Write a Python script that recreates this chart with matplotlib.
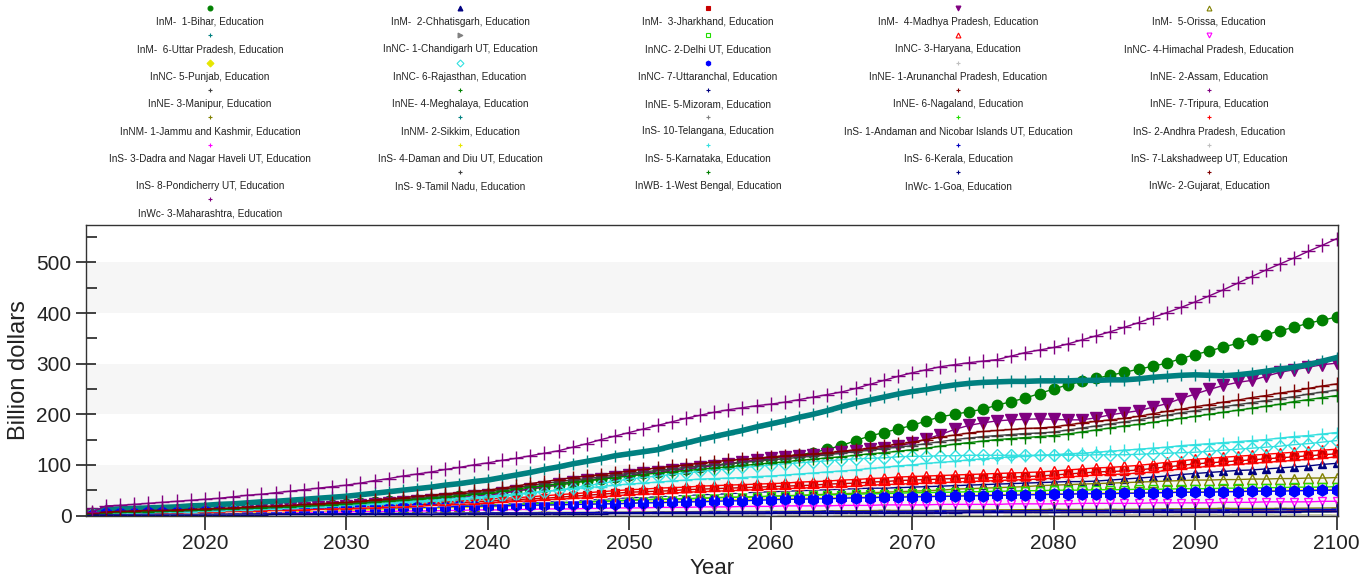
import matplotlib
matplotlib.use("Agg")
import matplotlib.pyplot as plt
from matplotlib.lines import Line2D

plt.rcParams['font.family'] = ['Liberation Sans', 'DejaVu Sans']

# yearly grid for the larger states, 4-yearly grid for the small ones
years = list(range(2012, 2101))
years_4 = list(range(2012, 2101, 4))

# ---- Billion dollars, education spending ----
bihar = [3, 5, 6, 6, 7, 8, 8, 9, 10,
         11, 12, 13, 14, 15, 16, 18, 19, 21, 22,
         24, 26, 28, 29, 31, 33, 35, 38, 40, 42,
         45, 49, 52, 56, 60, 64, 68, 72, 76, 80,
         83, 86, 89, 92, 95, 99, 102, 106, 109, 112,
         116, 120, 124, 131, 138, 148, 157, 164, 171, 178,
         187, 195, 200, 205, 210, 218, 225, 232, 241, 250,
         258, 265, 271, 277, 283, 289, 295, 301, 310, 318,
         325, 333, 340, 349, 357, 365, 372, 380, 386, 392]
chhattisgarh = [1, 2, 2, 3, 3, 3, 4, 4, 5,
                6, 6, 7, 8, 8, 9, 10, 10, 11, 12,
                13, 14, 15, 16, 17, 18, 19, 20, 21, 22,
                23, 25, 26, 27, 29, 30, 31, 32, 34, 35,
                36, 37, 39, 40, 41, 42, 43, 45, 46, 47,
                48, 49, 50, 51, 52, 53, 54, 54, 55, 56,
                57, 58, 59, 60, 61, 62, 63, 64, 65, 66,
                67, 67, 68, 70, 72, 74, 76, 78, 81, 83,
                85, 87, 89, 90, 92, 94, 96, 98, 101, 103]
jharkhand = [2, 3, 4, 4, 5, 5, 6, 6, 7,
             8, 9, 9, 10, 11, 12, 12, 13, 14, 15,
             16, 17, 18, 20, 21, 22, 24, 25, 27, 28,
             30, 31, 33, 34, 36, 38, 40, 42, 44, 46,
             47, 48, 49, 51, 52, 53, 54, 55, 56, 57,
             58, 59, 60, 62, 63, 64, 66, 67, 69, 70,
             71, 72, 73, 74, 74, 75, 76, 77, 78, 80,
             82, 84, 86, 87, 88, 90, 93, 96, 99, 102,
             104, 106, 108, 110, 112, 114, 116, 118, 120, 122]
madhya_pradesh = [2, 4, 4, 5, 5, 6, 7, 7, 8,
                  9, 10, 11, 12, 13, 14, 15, 16, 17, 18,
                  20, 22, 24, 26, 28, 30, 33, 35, 38, 40,
                  44, 48, 53, 57, 62, 66, 70, 73, 77, 80,
                  83, 86, 89, 92, 95, 98, 102, 106, 110, 114,
                  116, 117, 119, 122, 125, 128, 131, 134, 137, 143,
                  151, 160, 170, 178, 183, 187, 189, 190, 191, 190,
                  189, 189, 193, 199, 203, 207, 214, 221, 231, 240,
                  249, 257, 263, 267, 275, 283, 288, 293, 298, 301]
orissa = [1, 2, 2, 3, 3, 4, 4, 5, 5,
          6, 6, 7, 7, 8, 8, 9, 10, 10, 11,
          12, 13, 14, 15, 16, 16, 17, 18, 19, 20,
          21, 22, 23, 24, 25, 26, 27, 28, 29, 30,
          31, 32, 32, 33, 34, 35, 36, 36, 37, 38,
          39, 40, 41, 42, 43, 44, 45, 46, 47, 48,
          49, 50, 52, 53, 54, 55, 56, 57, 59, 60,
          61, 62, 63, 64, 65, 66, 67, 68, 69, 70,
          70, 71, 71, 72, 72, 73, 73, 74, 74, 75]
uttar_pradesh = [5, 12, 13, 14, 15, 16, 17, 19, 20,
                 22, 23, 25, 27, 28, 30, 32, 34, 36, 38,
                 41, 44, 47, 50, 53, 56, 60, 63, 67, 70,
                 75, 80, 85, 91, 96, 102, 107, 112, 118, 122,
                 126, 130, 137, 143, 150, 156, 162, 168, 175, 181,
                 187, 194, 200, 207, 215, 222, 228, 234, 240, 245,
                 249, 254, 258, 261, 263, 264, 265, 265, 266, 266,
                 266, 267, 267, 268, 268, 270, 273, 275, 277, 278,
                 277, 276, 278, 281, 285, 289, 293, 298, 305, 312]
delhi = [2, 3, 3, 4, 4, 5, 5, 6, 6,
         7, 7, 8, 8, 9, 9, 10, 11, 11, 12,
         13, 14, 14, 15, 16, 17, 17, 18, 19, 20,
         21, 22, 23, 24, 25, 26, 27, 28, 29, 30,
         31, 32, 33, 33, 34, 35, 36, 36, 37, 38,
         39, 39, 40, 41, 41, 42, 43, 43, 44, 45,
         45, 46, 46, 47, 47, 48, 48, 49, 49, 50,
         50, 50, 51, 51, 51, 52, 52, 52, 53, 53,
         53, 54, 54, 54, 55, 55, 56, 56, 56, 57]
haryana = [2, 3, 4, 5, 5, 6, 7, 7, 8,
           9, 10, 11, 12, 13, 13, 14, 15, 16, 17,
           18, 19, 21, 22, 24, 25, 27, 28, 30, 32,
           34, 35, 37, 39, 41, 43, 45, 47, 49, 51,
           52, 54, 55, 56, 58, 59, 60, 61, 62, 63,
           64, 66, 67, 68, 70, 71, 73, 74, 76, 77,
           78, 79, 80, 81, 82, 83, 84, 85, 86, 88,
           90, 92, 94, 95, 97, 99, 102, 105, 108, 111,
           113, 115, 117, 119, 121, 123, 125, 127, 129, 131]
himachal = [1, 2, 2, 2, 3, 3, 3, 4, 4,
            4, 5, 5, 5, 6, 6, 6, 7, 7, 7,
            8, 8, 8, 9, 9, 9, 10, 10, 11, 11,
            11, 12, 12, 13, 13, 13, 14, 14, 15, 15,
            15, 16, 16, 16, 17, 17, 17, 18, 18, 18,
            19, 19, 19, 19, 20, 20, 20, 21, 21, 21,
            21, 22, 22, 22, 22, 22, 23, 23, 23, 23,
            23, 24, 24, 24, 24, 24, 25, 25, 25, 25,
            25, 26, 26, 26, 27, 27, 27, 27, 28, 28]
punjab = [1, 2, 2, 3, 3, 3, 4, 4, 5,
          5, 6, 6, 7, 7, 8, 8, 9, 9, 10,
          11, 11, 12, 13, 14, 14, 15, 16, 16, 17,
          18, 19, 20, 20, 21, 22, 23, 24, 24, 25,
          26, 27, 28, 28, 29, 30, 31, 32, 32, 33,
          34, 34, 35, 35, 36, 36, 37, 37, 38, 38,
          39, 39, 40, 40, 41, 41, 42, 42, 43, 43,
          43, 44, 44, 45, 45, 45, 46, 46, 47, 47,
          47, 48, 48, 49, 49, 50, 50, 51, 51, 52]
rajasthan = [2, 3, 4, 4, 5, 5, 6, 7, 8,
             9, 10, 11, 11, 12, 13, 14, 15, 17, 18,
             19, 21, 22, 24, 26, 28, 29, 31, 33, 35,
             38, 41, 44, 47, 50, 54, 59, 63, 68, 72,
             75, 78, 81, 84, 87, 90, 92, 95, 97, 100,
             102, 104, 106, 108, 110, 112, 113, 114, 116, 117,
             117, 118, 118, 119, 119, 119, 119, 119, 119, 119,
             119, 119, 120, 120, 120, 121, 122, 123, 124, 125,
             127, 129, 131, 133, 135, 137, 140, 142, 145, 148]
uttaranchal = [1, 4, 5, 5, 6, 6, 7, 7, 8,
               8, 9, 9, 10, 11, 11, 12, 12, 13, 14,
               14, 15, 15, 16, 16, 17, 17, 18, 18, 19,
               19, 20, 20, 21, 21, 22, 22, 23, 23, 24,
               25, 25, 26, 27, 27, 28, 29, 29, 30, 31,
               32, 32, 33, 33, 34, 35, 35, 36, 36, 37,
               37, 38, 38, 39, 39, 40, 40, 41, 41, 42,
               42, 43, 43, 43, 44, 44, 45, 45, 46, 46,
               46, 47, 47, 48, 48, 48, 49, 49, 50, 50]
assam = [1, 2, 3, 3, 4, 4, 5, 5, 6,
         6, 7, 8, 8, 9, 10, 11, 11, 12, 13,
         14, 15, 16, 17, 18, 19, 20, 22, 23, 24,
         25, 26, 28, 29, 30, 31, 33, 34, 36, 38,
         39, 40, 41, 42, 44, 45, 46, 47, 49, 50,
         51, 52, 53, 54, 55, 57, 58, 59, 60, 62,
         63, 64, 65, 66, 67, 68, 70, 71, 72, 74,
         75, 77, 79, 81, 83, 84, 86, 88, 90, 92,
         94, 96, 98, 100, 102, 104, 106, 108, 110, 112]
andhra = [2, 3, 3, 4, 4, 5, 5, 6, 6,
          7, 8, 8, 9, 10, 10, 11, 12, 13, 13,
          14, 15, 16, 17, 18, 20, 21, 22, 23, 25,
          26, 28, 29, 31, 32, 34, 35, 37, 39, 41,
          42, 43, 44, 46, 47, 48, 49, 50, 51, 52,
          53, 54, 55, 56, 57, 58, 60, 61, 62, 63,
          64, 65, 66, 67, 68, 69, 70, 71, 72, 74,
          76, 78, 80, 81, 82, 84, 86, 89, 92, 95,
          97, 99, 101, 103, 105, 107, 109, 111, 113, 116]
karnataka = [2, 4, 4, 5, 5, 6, 6, 7, 8,
             9, 10, 11, 12, 13, 15, 16, 17, 19, 20,
             22, 23, 25, 27, 29, 30, 32, 34, 36, 38,
             40, 43, 45, 48, 50, 53, 55, 57, 60, 62,
             64, 66, 68, 70, 72, 73, 74, 75, 77, 78,
             80, 82, 84, 86, 88, 90, 93, 95, 98, 100,
             103, 105, 107, 110, 112, 114, 116, 117, 119, 120,
             122, 123, 125, 127, 129, 131, 133, 135, 138, 140,
             142, 144, 146, 148, 150, 153, 156, 158, 161, 164]
tamil_nadu = [4, 6, 7, 8, 8, 9, 10, 11, 12,
              13, 14, 15, 16, 17, 19, 20, 21, 23, 24,
              26, 28, 30, 33, 35, 37, 40, 42, 45, 47,
              51, 55, 59, 63, 67, 70, 73, 76, 80, 83,
              86, 89, 92, 95, 98, 100, 102, 105, 107, 110,
              112, 115, 117, 120, 123, 126, 129, 132, 135, 138,
              142, 146, 150, 153, 156, 158, 160, 162, 163, 165,
              169, 173, 177, 181, 185, 189, 194, 198, 203, 207,
              211, 215, 219, 223, 227, 231, 235, 240, 244, 248]
west_bengal = [3, 5, 6, 7, 7, 8, 9, 10, 11,
               12, 13, 14, 15, 16, 17, 18, 20, 21, 22,
               24, 26, 28, 30, 32, 35, 37, 39, 42, 44,
               48, 52, 56, 59, 63, 66, 69, 72, 75, 78,
               81, 84, 86, 89, 91, 94, 96, 99, 101, 104,
               106, 109, 111, 114, 116, 119, 122, 124, 127, 130,
               133, 137, 141, 144, 147, 150, 152, 154, 156, 158,
               161, 165, 169, 173, 177, 180, 184, 188, 192, 196,
               200, 204, 208, 212, 216, 220, 225, 229, 233, 237]
goa = [1, 1, 1, 1, 1, 1, 1, 1, 1,
       1, 1, 1, 1, 2, 2, 2, 2, 2, 2,
       2, 2, 2, 2, 2, 2, 3, 3, 3, 3,
       3, 3, 3, 3, 3, 3, 3, 3, 4, 4,
       4, 4, 4, 4, 4, 4, 4, 4, 4, 4,
       5, 5, 5, 5, 5, 5, 5, 5, 5, 5,
       5, 5, 5, 6, 6, 6, 6, 6, 6, 6,
       6, 6, 6, 6, 6, 7, 7, 7, 7, 7,
       7, 7, 7, 7, 7, 7, 7, 8, 8, 8]
gujarat = [4, 7, 8, 9, 10, 10, 11, 12, 13,
           14, 15, 17, 18, 19, 20, 22, 23, 25, 26,
           28, 31, 33, 35, 38, 40, 43, 45, 48, 50,
           54, 58, 63, 67, 71, 75, 78, 81, 84, 88,
           91, 94, 97, 100, 103, 106, 109, 111, 113, 116,
           118, 120, 122, 124, 127, 130, 133, 137, 141, 145,
           150, 155, 159, 163, 166, 168, 170, 172, 173, 175,
           179, 183, 186, 189, 192, 196, 201, 206, 210, 215,
           219, 224, 228, 233, 237, 242, 246, 251, 256, 260]
maharashtra = [6, 19, 20, 22, 24, 26, 28, 30, 32,
               34, 37, 40, 42, 45, 48, 51, 54, 57, 60,
               64, 69, 73, 78, 82, 86, 91, 95, 100, 104,
               109, 113, 118, 123, 128, 135, 142, 150, 157, 164,
               171, 178, 185, 192, 198, 204, 209, 213, 217, 220,
               224, 229, 234, 239, 244, 251, 259, 267, 275, 282,
               288, 294, 298, 302, 305, 308, 315, 322, 327, 332,
               339, 347, 355, 363, 372, 381, 391, 401, 411, 422,
               434, 446, 459, 472, 485, 497, 509, 522, 534, 547]

# small states and UTs, every 4 years
chandigarh = [1, 1, 1, 1, 1, 2, 2, 2, 2, 3, 3, 3, 3, 4, 4, 4, 4, 5, 5, 5, 5, 6, 6]
arunachal = [0, 0, 1, 1, 1, 1, 1, 1, 2, 2, 2, 2, 2, 2, 3, 3, 3, 3, 3, 3, 4, 4, 4]
manipur = [0, 1, 1, 1, 1, 1, 1, 2, 2, 2, 2, 2, 3, 3, 3, 3, 3, 4, 4, 4, 4, 5, 5]
meghalaya = [1, 1, 1, 1, 2, 2, 2, 2, 3, 3, 3, 3, 4, 4, 4, 5, 5, 5, 5, 6, 6, 6, 7]
mizoram = [0, 0, 1, 1, 1, 1, 1, 1, 1, 2, 2, 2, 2, 2, 2, 2, 3, 3, 3, 3, 3, 3, 4]
nagaland = [1, 1, 1, 2, 2, 2, 3, 3, 3, 4, 4, 5, 5, 6, 6, 7, 7, 8, 8, 9, 9, 10, 10]
tripura = [1, 1, 1, 2, 2, 2, 3, 3, 3, 4, 4, 4, 5, 5, 5, 6, 6, 6, 7, 7, 8, 8, 9]
jammu_kashmir = [1, 2, 2, 3, 3, 4, 4, 5, 6, 6, 7, 8, 8, 9, 10, 10, 11, 12, 12, 13, 14, 14, 15]
sikkim = [0, 1, 1, 1, 1, 1, 1, 2, 2, 2, 2, 2, 2, 3, 3, 3, 3, 3, 3, 4, 4, 4, 4]
telangana = [1, 1, 2, 2, 3, 3, 4, 4, 5, 5, 6, 6, 7, 7, 8, 8, 9, 9, 10, 10, 11, 11, 12]
andaman = [0, 0, 0, 1, 1, 1, 1, 1, 1, 1, 1, 2, 2, 2, 2, 2, 2, 2, 2, 3, 3, 3, 3]
dadra = [0, 0, 1, 1, 1, 1, 1, 1, 2, 2, 2, 2, 2, 2, 3, 3, 3, 3, 3, 3, 4, 4, 4]
daman = [0, 0, 0, 1, 1, 1, 1, 1, 1, 1, 2, 2, 2, 2, 2, 2, 2, 3, 3, 3, 3, 3, 3]
kerala = [1, 2, 2, 3, 3, 4, 4, 5, 5, 6, 6, 7, 7, 8, 8, 9, 9, 10, 10, 11, 11, 12, 12]
lakshadweep = [0, 0, 0, 0, 0, 0, 0, 0, 0, 0, 0, 0, 1, 1, 1, 1, 1, 1, 1, 1, 1, 1, 1]
pondicherry = [0, 1, 1, 1, 1, 1, 2, 2, 2, 2, 2, 2, 3, 3, 3, 3, 3, 3, 4, 4, 4, 4, 4]

labels = [
    "InM-  1-Bihar, Education", "InM-  2-Chhatisgarh, Education", "InM-  3-Jharkhand, Education",
    "InM-  4-Madhya Pradesh, Education", "InM-  5-Orissa, Education",
    "InM-  6-Uttar Pradesh, Education", "InNC- 1-Chandigarh UT, Education", "InNC- 2-Delhi UT, Education",
    "InNC- 3-Haryana, Education", "InNC- 4-Himachal Pradesh, Education",
    "InNC- 5-Punjab, Education", "InNC- 6-Rajasthan, Education", "InNC- 7-Uttaranchal, Education",
    "InNE- 1-Arunanchal Pradesh, Education", "InNE- 2-Assam, Education",
    "InNE- 3-Manipur, Education", "InNE- 4-Meghalaya, Education", "InNE- 5-Mizoram, Education",
    "InNE- 6-Nagaland, Education", "InNE- 7-Tripura, Education",
    "InNM- 1-Jammu and Kashmir, Education", "InNM- 2-Sikkim, Education", "InS- 10-Telangana, Education",
    "InS- 1-Andaman and Nicobar Islands UT, Education", "InS- 2-Andhra Pradesh, Education",
    "InS- 3-Dadra and Nagar Haveli UT, Education", "InS- 4-Daman and Diu UT, Education",
    "InS- 5-Karnataka, Education", "InS- 6-Kerala, Education", "InS- 7-Lakshadweep UT, Education",
    "InS- 8-Pondicherry UT, Education", "InS- 9-Tamil Nadu, Education", "InWB- 1-West Bengal, Education",
    "InWc- 1-Goa, Education", "InWc- 2-Gujarat, Education",
    "InWc- 3-Maharashtra, Education",
]

series = [bihar, chhattisgarh, jharkhand, madhya_pradesh, orissa,
          uttar_pradesh, chandigarh, delhi, haryana, himachal,
          punjab, rajasthan, uttaranchal, arunachal, assam,
          manipur, meghalaya, mizoram, nagaland, tripura,
          jammu_kashmir, sikkim, telangana, andaman, andhra,
          dadra, daman, karnataka, kerala, lakshadweep,
          pondicherry, tamil_nadu, west_bengal, goa, gujarat,
          maharashtra]

# colour, marker, marker size, filled, line width
styles = [
    ("#008000", "o", 7.5, True, 1.0), ("#000080", "^", 6, True, 1.0), ("#c80000", "s", 6, True, 1.0),
    ("#800080", "v", 8.5, True, 1.0), ("#808000", "^", 7, False, 1.0),
    ("#008080", "+", 8, True, 4.0), ("#808080", ">", 4, True, 1.0), ("#22dd00", "s", 6, False, 1.0),
    ("#ff0000", "^", 7, False, 1.0), ("#ff00ff", "v", 6, False, 1.0),
    ("#e6e600", "D", 4, True, 1.0), ("#33e0e0", "D", 6.5, False, 1.0), ("#0000ff", "h", 8, True, 1.0),
    ("#c0c0c0", "+", 8, True, 1.0), ("#ffffff", "+", 8, True, 1.0),
    ("#404040", "+", 8, True, 1.0), ("#008000", "+", 8, True, 1.0), ("#000080", "+", 9, True, 1.0),
    ("#800000", "+", 8, True, 1.0), ("#800080", "+", 8, True, 1.0),
    ("#808000", "+", 8, True, 1.0), ("#008080", "+", 8, True, 1.0), ("#808080", "+", 8, True, 1.0),
    ("#22dd00", "+", 8, True, 1.0), ("#ff0000", "+", 8, True, 1.0),
    ("#ff00ff", "+", 8, True, 1.0), ("#e6e600", "+", 8, True, 1.0), ("#33e0e0", "+", 9, True, 1.0),
    ("#0000c0", "+", 8, True, 1.0), ("#c0c0c0", "+", 8, True, 1.0),
    ("#ffffff", "+", 8, True, 1.0), ("#404040", "+", 9, True, 1.0), ("#008000", "+", 9, True, 1.0),
    ("#000080", "+", 10, True, 1.0), ("#800000", "+", 10, True, 1.0),
    ("#800080", "+", 10, True, 1.0),
]

W, H = 1372, 578
fig = plt.figure(figsize=(W / 100, H / 100), dpi=100)
ax = fig.add_axes([86 / W, 1 - 515.5 / H, (1338 - 86) / W, (515.5 - 225) / H])

# alternating light bands
for lo in (0, 200, 400):
    ax.axhspan(lo, lo + 100, color="#f6f6f6", zorder=0, lw=0)

for i, (vals, (col, mk, ms, filled, lw)) in enumerate(zip(series, styles)):
    xs = years if len(vals) == len(years) else years_4
    ax.plot(xs, vals, color=col, lw=lw, marker=mk, markersize=ms,
            markerfacecolor=col if filled else "none", markeredgecolor=col,
            markeredgewidth=1.0, zorder=2 + i * 0.01)

ax.set_xlim(2011.6, 2100.1)
ax.set_ylim(0, 574)
ax.set_xticks([2020, 2030, 2040, 2050, 2060, 2070, 2080, 2090, 2100])
ax.set_yticks([0, 100, 200, 300, 400, 500])
ax.set_yticks([50, 150, 250, 350, 450, 550], minor=True)
ax.tick_params(axis="x", which="major", direction="inout", length=20, width=1.2,
               labelsize=15, pad=3, colors="#222222")
ax.tick_params(axis="y", which="major", direction="inout", length=15, width=1.2,
               labelsize=15, pad=3, colors="#222222")
ax.tick_params(axis="y", which="minor", direction="in", length=8, width=1.2, colors="#222222")
for sp in ax.spines.values():
    sp.set_color("#333333")
    sp.set_linewidth(1.0)

ax.set_ylabel("Billion dollars", fontsize=17, color="#222222")
ax.yaxis.set_label_coords(-0.045, 0.5)
ax.set_xlabel("Year", fontsize=16, color="#222222")
ax.xaxis.set_label_coords(0.5, -0.148)

# legend: 5 columns, marker above each label
col_x = [210, 460, 708, 958, 1209]
for i, (lab, (col, mk, ms, filled, lw)) in enumerate(zip(labels, styles)):
    cx = col_x[i % 5]
    ty = 22 + (i // 5) * 27.35
    fig.text(cx / W, 1 - ty / H, lab, ha="center", va="center", fontsize=7.2, color="#222222")
    fig.add_artist(Line2D([cx / W], [1 - (ty - 14) / H], transform=fig.transFigure,
                          linestyle="none", marker=mk, markersize=3.5, color=col,
                          markerfacecolor=col if filled else "none", markeredgewidth=0.8))

fig.savefig("out.png", dpi=100)
